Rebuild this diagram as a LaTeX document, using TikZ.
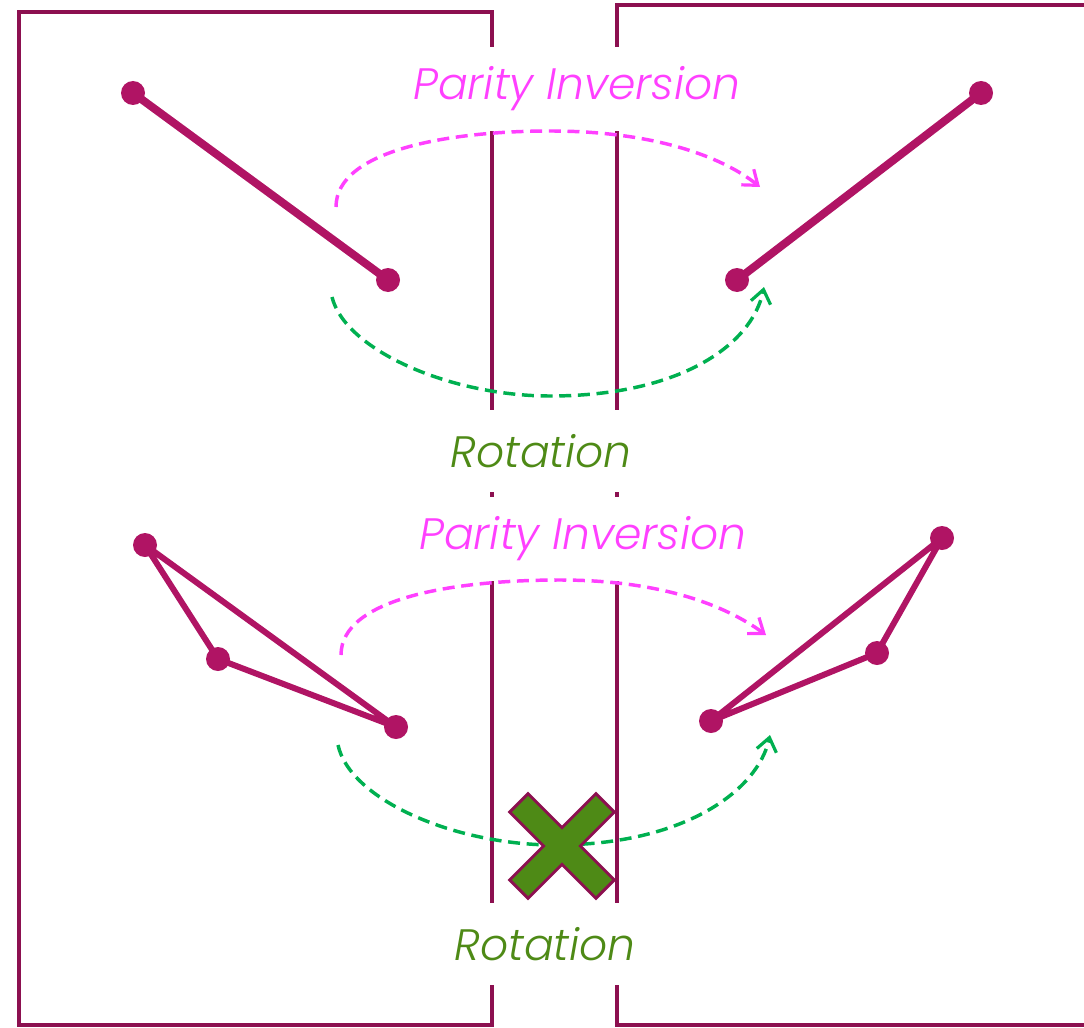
\documentclass[tikz,border=0pt]{standalone}
\usepackage{fontspec}
\setmainfont{Poppins}[UprightFont=* Light,ItalicFont=* Light Italic]
\usepackage{tikz}
\usetikzlibrary{
  arrows.meta,
  backgrounds
}
\definecolor{StickMagenta}{RGB}{176,20,100}
\definecolor{FrameWine}{RGB}{140,16,80}
\definecolor{ParityPink}{RGB}{255,64,255}
\definecolor{RotGreen}{RGB}{0,176,80}
\definecolor{OliveGreen}{RGB}{78,138,22}
\tikzset{
  frameline/.style={draw=FrameWine,line width=3pt},
  stickdot/.style={circle,fill=StickMagenta,inner sep=0pt,minimum size=18pt},
  stickline/.style={draw=StickMagenta,line width=6pt},
  triline/.style={draw=StickMagenta,line width=4.5pt,line join=round},
  paritylabel/.style={fill=white,text=ParityPink,font=\fontsize{33}{40}\selectfont\itshape,minimum height=63pt,inner xsep=2pt},
  rotlabel/.style={fill=white,text=OliveGreen,font=\fontsize{33}{40}\selectfont\itshape,minimum height=61pt,inner xsep=2pt},
  parityarrow/.style={-{Straight Barb[length=10pt,width=15pt,line width=2.4pt]},dash pattern=on 9pt off 5pt,line width=2.6pt,draw=ParityPink},
  rotarrow/.style={-{Straight Barb[length=10pt,width=15pt,line width=2.4pt]},dash pattern=on 9pt off 5pt,line width=2.6pt,draw=RotGreen},
  crossmark/.style={fill=OliveGreen,draw=FrameWine,line width=2.2pt,line join=miter}
}

\begin{document}
\begin{tikzpicture}[x=0.75pt,y=-0.75pt]
\useasboundingbox (0,0) rectangle (1084,1027);

% the two half spaces
\draw[frameline] (19,12) -- (492,12) -- (492,1025) -- (19,1025) -- cycle;
\draw[frameline] (1090,5) -- (617,5) -- (617,1025) -- (1090,1025);

% labels (white boxes cut the frame lines)
\node[paritylabel] (p1) at (577,89) {Parity Inversion};
\node[rotlabel] (r1) at (541,451) {Rotation};
\node[paritylabel] (p2) at (583,539) {Parity Inversion};
\node[rotlabel] (r2) at (545,944) {Rotation};

% upper row: a stick
\node[stickdot] (a1) at (133,93) {};
\node[stickdot] (a2) at (388,280) {};
\node[stickdot] (b1) at (981,93) {};
\node[stickdot] (b2) at (737,280) {};

% lower row: a triangle
\node[stickdot] (c1) at (145,545) {};
\node[stickdot] (c2) at (218,659) {};
\node[stickdot] (c3) at (396,727) {};
\node[stickdot] (d1) at (942,538) {};
\node[stickdot] (d2) at (877,653) {};
\node[stickdot] (d3) at (711,721) {};

\begin{pgfonlayer}{background}
\draw[stickline] (a1.center) -- (a2.center);
\draw[stickline] (b1.center) -- (b2.center);
\draw[triline] (c1.center) -- (c2.center) -- (c3.center) -- cycle;
\draw[triline] (d1.center) -- (d2.center) -- (d3.center) -- cycle;
\end{pgfonlayer}

% transformations
\draw[parityarrow] (336,207) .. controls (336,150) and (450,131) .. (550,131)
  .. controls (650,131) and (720,155) .. (760,187);
\draw[rotarrow] (332,297) .. controls (345,350) and (450,396) .. (550,396)
  .. controls (680,396) and (752,345) .. (764,287);
\draw[parityarrow] (341,655) .. controls (341,598) and (455,580) .. (560,580)
  .. controls (660,580) and (725,605) .. (766,635);
\draw[rotarrow] (338,745) .. controls (350,800) and (455,845) .. (555,845)
  .. controls (685,845) and (758,790) .. (770,735);

% not allowed
\begin{scope}[shift={(562,846)},rotate=45]
\draw[crossmark] (13,13) -- (13,61) -- (-13,61) -- (-13,13) -- (-61,13) -- (-61,-13)
  -- (-13,-13) -- (-13,-61) -- (13,-61) -- (13,-13) -- (61,-13) -- (61,13) -- cycle;
\end{scope}
\end{tikzpicture}
\end{document}
